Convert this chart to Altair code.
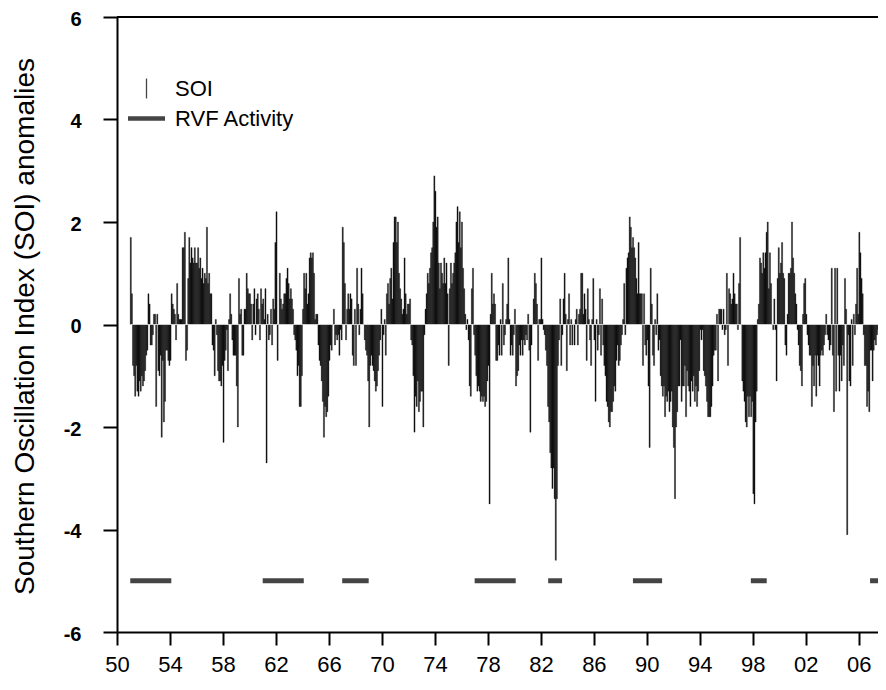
import altair as alt
import pandas as pd

# Monthly SOI anomalies (Jan..Dec per year)
soi_1951_1959 = [
    1.7, 0.6, -0.8, -1.0, -1.4, -0.8, -1.3, -1.4, -1.1, -1.3, -1.0, -1.2,   # 1951
    -1.1, -0.9, -0.6, -0.5, 0.6, 0.4, -0.4, -0.4, -0.2, 0.2, 0.2, -1.6,    # 1952
    0.2, -0.9, -1.0, -0.6, -2.2, -0.7, -1.9, -1.5, -0.5, -0.5, -0.7, -0.8,  # 1953
    -0.7, 0.6, 0.4, 0.3, 0.2, -0.3, 0.8, 0.2, 0.1, 0.1, 0.1, 1.5,          # 1954
    1.5, 1.8, -0.7, -0.5, 0.9, 1.7, 1.2, 1.5, 1.3, 1.2, 1.5, 1.2,          # 1955
    1.2, 1.5, 1.1, 1.3, 0.9, 1.1, 0.8, 1.0, 0.9, 1.9, 0.8, 1.0,            # 1956
    0.6, 0.6, -0.4, -0.5, -1.0, 0.1, -0.2, -0.9, -1.1, -1.1, -1.2, -0.8,   # 1957
    -2.3, -0.7, -0.5, -0.1, -0.9, 0.1, 0.6, 0.2, -0.3, -0.6, -0.6, -0.6,   # 1958
    -1.2, -2.0, 0.9, 0.2, 0.3, -0.6, -0.6, 0.3, 0.3, 1.0, 0.7, 0.6,        # 1959
]
soi_1960_1969 = [
    0.6, 0.4, -0.3, 0.4, 0.7, -0.2, 0.5, 0.6, 0.3, -0.3, 0.7, 0.4,         # 1960
    0.5, 0.1, 0.7, -2.7, 0.2, -0.3, -0.2, 0.3, -0.4, 0.5, 0.3, 1.6,        # 1961
    2.2, -0.7, 0.0, 1.0, 0.5, 0.3, 0.4, 0.6, 0.6, 0.9, 1.1, 0.8,           # 1962
    0.5, 0.7, 0.5, 0.3, -0.2, -0.3, -0.5, -1.0, -0.8, -1.6, -1.6, -1.0,    # 1963
    0.3, 1.0, 0.7, 1.0, 0.4, 0.6, 1.3, 1.4, 1.3, 1.4, 1.0, 0.1,            # 1964
    0.2, 0.2, -0.4, -0.7, -0.8, -1.1, -1.5, -2.2, -1.6, -1.8, -1.7, -1.4,  # 1965
    -0.7, -0.4, -0.5, 0.0, 0.3, -0.4, -0.2, -0.3, -0.2, -0.6, -0.1, -0.3,  # 1966
    1.9, 1.6, 0.8, -0.3, 0.3, 0.6, 0.3, 0.6, 0.5, -0.6, -0.8, 0.3,         # 1967
    -0.8, 1.1, 0.4, -0.2, 0.3, 1.1, 0.6, 0.0, -0.3, -0.5, -0.6, -1.1,      # 1968
    -2.0, -0.8, -0.6, -0.8, -0.9, -1.1, -1.3, -1.2, -0.9, -0.6, -0.3, 0.3, # 1969
]
soi_1970_1979 = [
    -1.6, -0.2, 0.1, -0.6, 0.6, 0.8, 0.4, 0.9, 1.1, 0.5, 1.6, 2.1,         # 1970
    2.1, 1.6, 2.0, 1.0, 0.7, 0.5, 0.2, 0.3, 1.3, 0.6, 0.2, 0.4,            # 1971
    0.4, 0.5, -0.3, -0.4, -1.0, -2.1, -1.4, -1.6, -1.1, -1.7, -1.5, -1.3,  # 1972
    -1.3, -2.0, -0.2, 0.3, 0.6, 1.0, 0.8, 1.1, 1.4, 1.5, 2.0, 2.9,         # 1973
    2.6, 1.9, 2.1, 1.2, 0.7, 1.2, 1.0, 0.8, 1.3, 0.8, 1.2, 0.6,            # 1974
    -0.8, 0.7, 1.2, 0.8, 1.0, 1.2, 1.4, 2.0, 2.3, 1.6, 2.2, 1.5,           # 1975
    2.0, 1.1, 0.7, 0.2, -0.1, 0.1, -0.3, -1.2, -1.4, 0.7, 1.1, -0.2,       # 1976
    -0.6, -1.0, -1.3, -1.2, -1.3, -1.5, -1.4, -1.5, -1.4, -1.6, -1.5, -1.1,# 1977
    -0.8, -3.5, 0.2, 1.0, 0.4, 0.6, 0.4, -0.7, -0.7, -0.4, -0.6, 0.1,      # 1978
    -0.6, 0.8, -0.4, -0.2, 0.1, 0.4, 1.3, 0.1, -0.6, -0.4, -0.6, -0.2,     # 1979
]
soi_1980_1989 = [
    0.3, -1.2, -1.0, -0.9, -0.4, -0.6, -0.3, -0.6, -0.3, -0.4, -0.2, -0.3, # 1980
    0.2, -0.5, -2.1, -0.4, 0.0, 0.5, 1.0, 0.8, 0.4, -0.7, 0.1, 0.1,        # 1981
    1.3, 0.1, -0.1, -0.2, -0.5, -0.8, -1.6, -1.9, -2.5, -2.8, -3.2, -2.8,  # 1982
    -3.4, -4.6, -3.4, -0.8, -0.3, 0.5, -0.8, -0.2, 0.5, 1.0, 0.2, -0.9,    # 1983
    0.1, 0.6, -0.4, 0.1, -0.4, 0.0, -0.4, 0.1, 0.3, -0.4, 0.2, 0.3,        # 1984
    1.0, 1.0, 0.2, 0.6, 0.3, -0.7, 0.7, 0.1, -0.3, -0.8, 0.1, 0.9,         # 1985
    -0.3, -1.5, 0.1, -0.5, -0.2, 0.7, -0.6, 0.5, -0.4, -0.8, -1.0, -1.5,   # 1986
    -1.6, -1.9, -2.0, -1.7, -1.7, -1.5, -1.2, -1.3, -0.7, -0.4, -0.8, -0.7,# 1987
    -0.4, -0.2, 0.1, 0.8, -0.2, 1.1, 1.3, 1.4, 2.1, 1.9, 1.5, 1.7,         # 1988
    1.5, 1.3, 0.9, 0.6, 1.6, 0.6, 0.6, 0.6, -0.8, 0.6, -0.4, -0.6,         # 1989
]
soi_1990_1999 = [
    -0.3, -1.2, -2.4, 1.1, 0.4, -0.6, -0.8, 0.1, -0.2, 0.6, -0.5, -0.3,    # 1990
    -1.0, -1.2, -1.4, -1.2, -1.8, -1.4, -1.5, -1.3, -1.7, -1.5, -1.3, -2.0,# 1991
    -2.4, -3.4, -2.0, -1.7, -1.2, -1.2, -0.3, -1.5, -1.2, -1.2, -0.8, -1.8,# 1992
    -0.9, -1.2, -1.3, -1.6, -1.1, -1.3, -1.0, -1.5, -1.2, -1.6, -1.3, -0.9,# 1993
    -0.1, -0.3, -0.1, -0.9, -1.0, -1.2, -1.5, -1.8, -1.8, -1.8, -1.6, -1.2,# 1994
    -0.6, -0.5, -0.5, 0.2, -1.1, 0.3, 0.3, 0.3, -0.1, 0.3, -0.2, -0.1,     # 1995
    1.0, -0.8, 0.7, 0.6, 0.4, 0.5, 1.0, 0.6, 0.4, 0.4, -0.1, 0.8,          # 1996
    1.7, 0.0, -1.1, -1.3, -1.5, -1.9, -2.0, -1.4, -1.8, -1.4, -1.8, -1.5,  # 1997
    -3.3, -3.5, -1.9, -1.3, 0.1, 0.4, 1.3, 1.2, 1.0, 1.4, 1.1, 1.4,        # 1998
    1.8, 2.0, 0.7, 1.4, 0.8, 0.0, -0.1, 0.5, -0.1, -1.1, 0.9, 1.5,         # 1999
]
soi_2000_2007 = [
    1.0, 1.2, 1.6, 1.0, 0.9, -0.4, -0.6, 0.2, 1.0, 1.0, 1.1, 2.0,          # 2000
    1.3, 1.0, 0.6, 0.4, -0.1, -0.4, -0.8, -0.9, -1.2, 0.2, 0.8, 0.9,       # 2001
    0.2, -0.2, -0.4, -0.6, -0.6, -1.6, -0.8, -1.2, -0.6, -1.4, -0.6, -0.8, # 2002
    -1.2, -0.6, -0.5, -0.6, -0.4, -0.2, 0.2, -0.2, -0.3, -0.5, -0.4, 1.1,  # 2003
    -0.6, -1.7, 1.1, -1.3, 1.1, -0.6, -1.3, -0.6, -1.1, -0.4, -0.8, 0.9,   # 2004
    0.3, -4.1, -0.2, -1.1, -1.2, 0.1, -0.8, 0.2, -0.2, 0.4, 1.1, 0.2,      # 2005
    1.8, 1.4, 0.9, 0.6, -0.2, -0.8, -0.8, -1.6, -1.3, -1.7, -0.5, -0.5,    # 2006
    -1.1, -0.5, -0.3, -0.4, -0.2, -0.1, 0.2, 0.1, 0.2, 0.4, 0.8, 0.8,      # 2007
]
first_year = 1951

# RVF activity periods (decimal years)
rvf_start = [1951.0, 1961.0, 1967.0, 1977.0, 1982.55, 1988.95, 1997.85, 2006.85]
rvf_end = [1954.1, 1964.1, 1969.0, 1980.1, 1983.6, 1991.15, 1999.05, 2007.6]
rvf_level = -5

x_ticks = list(range(1950, 2007, 4))
y_ticks = [-6, -4, -2, 0, 2, 4, 6]
x_domain = [1950, 2007.45]
y_domain = [-6, 6]
legend_labels = ["SOI", "RVF Activity"]

FONT = "Liberation Sans"

values = soi_1951_1959 + soi_1960_1969 + soi_1970_1979 + soi_1980_1989 + soi_1990_1999 + soi_2000_2007
soi_df = pd.DataFrame({
    "t": [first_year + i / 12 for i in range(len(values))],
    "soi": values,
})
soi_df["t2"] = soi_df["t"] + 1 / 12
rvf_df = pd.DataFrame({"start": rvf_start, "end": rvf_end, "level": [rvf_level] * len(rvf_start)})
legend_df = pd.DataFrame({"series": legend_labels})

x_scale = alt.Scale(domain=x_domain, nice=False, zero=False)
y_scale = alt.Scale(domain=y_domain, nice=False, zero=False)

x_axis = alt.Axis(
    values=x_ticks, labelExpr="slice(toString(datum.value), 2)", title=None,
    tickSize=13, tickWidth=2, tickColor="black", domainColor="black", domainWidth=2,
    labelFont=FONT, labelFontSize=22, labelColor="black", labelPadding=9, grid=False,
    labelFlush=False, labelOverlap=False,
)
y_axis = alt.Axis(
    values=y_ticks, labelExpr="toString(datum.value)",
    title="Southern Oscillation Index (SOI) anomalies",
    tickSize=14, tickWidth=2, tickColor="black", domainColor="black", domainWidth=2,
    labelFont=FONT, labelFontSize=20, labelFontWeight="bold", labelColor="black",
    labelPadding=22, labelOffset=2, grid=False, labelFlush=False, labelOverlap=False,
    titleFont=FONT, titleFontSize=28, titleFontWeight="normal", titleColor="black",
    titleAngle=270, titleAlign="center", titleBaseline="alphabetic",
    titleX=-84, titleY=309,
)

bars = alt.Chart(soi_df).mark_bar(
    color="#111111", stroke="#111111", strokeWidth=0.35, clip=True
).encode(
    x=alt.X("t:Q", scale=x_scale, axis=x_axis),
    x2="t2:Q",
    y=alt.Y("soi:Q", scale=y_scale, axis=y_axis),
    y2=alt.datum(0),
)

zero_line = alt.Chart(soi_df).mark_rule(color="#cccccc", strokeWidth=1, clip=True).encode(
    x="min(t):Q", x2="max(t2):Q", y=alt.datum(0),
)

rvf = alt.Chart(rvf_df).mark_rule(color="#444444", strokeWidth=5, clip=True).encode(
    x="start:Q", x2="end:Q", y="level:Q",
)

top_line = alt.Chart(legend_df).mark_rule(color="black", strokeWidth=2).encode(
    y=alt.datum(y_domain[1]),
)

soi_path = "M-0.035,-0.54L0.035,-0.54L0.035,0.54L-0.035,0.54Z"
rvf_path = "M-1,-0.12L1,-0.12L1,0.12L-1,0.12Z"
legend_layer = alt.Chart(legend_df).mark_point(filled=True, color="#444444", opacity=1, size=1369).encode(
    shape=alt.Shape(
        "series:N",
        scale=alt.Scale(domain=legend_labels, range=[soi_path, rvf_path]),
        legend=alt.Legend(
            title=None, orient="none", legendX=11, legendY=53, padding=0,
            symbolSize=1369, symbolStrokeWidth=0, symbolFillColor="#444444",
            labelFont=FONT, labelFontSize=22, labelColor="black", labelOffset=10,
            rowPadding=0,
        ),
    ),
).transform_filter("false")

chart = alt.layer(bars, zero_line, rvf, top_line, legend_layer).properties(
    width=761, height=615,
    autosize=alt.AutoSizeParams(type="none"),
    padding={"left": 109, "top": 9, "right": 0, "bottom": 50},
).configure_view(stroke=None).configure(background="white")

chart.save("out.html", embed_options={"renderer": "svg", "actions": False})
